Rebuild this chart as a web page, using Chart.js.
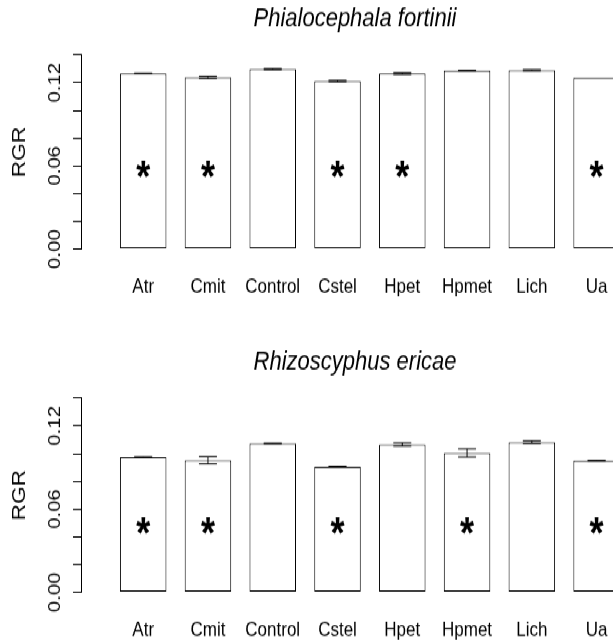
<!DOCTYPE html>
<html><head><meta charset="utf-8">
<script src="https://cdn.jsdelivr.net/npm/chart.js@4/dist/chart.umd.min.js"></script>
<style>
html,body{margin:0;padding:0;background:#fff;overflow:hidden;width:613px;height:640px;}
#stage{position:absolute;left:0;top:0;width:640px;height:580px;transform:scale(1,1.2);transform-origin:0 0;}
.panel{position:absolute;left:0;width:640px;height:284px;}
#p1{top:0}
#p2{top:286px}
</style></head><body>
<div id="stage">
<div class="panel" id="p1"><canvas id="c1" width="640" height="284"></canvas></div>
<div class="panel" id="p2"><canvas id="c2" width="640" height="284"></canvas></div>
</div>
<script>
// ---- data ----
const categories = ['Atr','Cmit','Control','Cstel','Hpet','Hpmet','Lich','Ua'];
const yTickLabels = ['0.00','0.06','0.12'];

const pfTitle = 'Phialocephala fortinii';
const pfMeans = [0.1266, 0.1239, 0.1298, 0.1212, 0.1266, 0.1288, 0.1290, 0.1236];
const pfSE    = [0.0001, 0.0008, 0.0004, 0.0005, 0.0006, 0.0001, 0.0004, 0.0000];
const pfSig   = [1, 1, 0, 1, 1, 0, 0, 1];
const pfStarAt = 0.055;

const reTitle = 'Rhizoscyphus ericae';
const reMeans = [0.0974, 0.0952, 0.1074, 0.0906, 0.1066, 0.1005, 0.1083, 0.0950];
const reSE    = [0.0002, 0.0026, 0.0002, 0.0003, 0.0012, 0.0030, 0.0010, 0.0001];
const reSig   = [1, 1, 0, 1, 0, 1, 0, 1];
const reStarAt = 0.046;

// ---- rendering ----
const FONT = '"Liberation Sans", Arial, Helvetica, sans-serif';
Chart.defaults.font.family = FONT;
Chart.defaults.color = '#000';

const errStar = {
  id: 'errStar',
  afterDatasetsDraw(chart, args, opts) {
    const ctx = chart.ctx, xs = chart.scales.x, ys = chart.scales.y;
    ctx.save();
    ctx.strokeStyle = '#000';
    ctx.lineWidth = 1;
    opts.means.forEach((m, i) => {
      const se = opts.se[i];
      if (se > 0) {
        const x = xs.getPixelForValue(i + 1);
        const yh = ys.getPixelForValue(m + se);
        const yl = ys.getPixelForValue(m - se);
        ctx.beginPath();
        ctx.moveTo(x, yh); ctx.lineTo(x, yl);
        ctx.moveTo(x - 9, yh); ctx.lineTo(x + 9, yh);
        ctx.moveTo(x - 9, yl); ctx.lineTo(x + 9, yl);
        ctx.stroke();
      }
    });
    const size = 36;
    ctx.font = 'bold ' + size + 'px ' + FONT;
    ctx.fillStyle = '#000';
    ctx.textAlign = 'center';
    ctx.textBaseline = 'alphabetic';
    opts.sig.forEach((s, i) => {
      if (!s) return;
      const x = xs.getPixelForValue(i + 1);
      const y = ys.getPixelForValue(opts.starAt);
      ctx.fillText('*', x, y + 0.45 * size);
    });
    ctx.restore();
  }
};

function makeChart(id, title, means, se, sig, starAt) {
  return new Chart(document.getElementById(id), {
    type: 'bar',
    data: {
      datasets: [{
        data: means.map((v, i) => ({x: i + 1, y: v})),
        backgroundColor: '#ffffff',
        borderColor: '#000000',
        borderWidth: 1,
        borderSkipped: false,
        barPercentage: 0.718,
        categoryPercentage: 1.0
      }]
    },
    options: {
      responsive: false,
      animation: false,
      layout: {padding: {left: 0, right: 11, top: 0, bottom: 12}},
      plugins: {
        legend: {display: false},
        tooltip: {enabled: false},
        title: {
          display: true, text: title, fullSize: false, color: '#000',
          font: {family: FONT, size: 22, style: 'italic', weight: 'normal'},
          padding: {top: 3, bottom: 16.4}
        },
        errStar: {means: means, se: se, sig: sig, starAt: starAt}
      },
      scales: {
        x: {
          type: 'linear', min: 0.04, max: 8.5, offset: false,
          afterBuildTicks: s => { s.ticks = categories.map((c, i) => ({value: i + 1})); },
          ticks: {
            callback: v => categories[v - 1] || '',
            autoSkip: false, maxRotation: 0, minRotation: 0,
            font: {family: FONT, size: 17}, color: '#000', padding: 22
          },
          grid: {display: false, drawTicks: false, tickLength: 0, offset: false},
          border: {display: false}
        },
        y: {
          type: 'linear', min: 0, max: 0.14,
          afterFit: s => { s.width = 81; },
          ticks: {
            stepSize: 0.02,
            callback: v => { const t = Number(v).toFixed(2); return yTickLabels.includes(t) ? t : ''; },
            minRotation: 90, maxRotation: 90, crossAlign: 'center',
            padding: 1, font: {family: FONT, size: 17}, color: '#000', autoSkip: false
          },
          grid: {drawOnChartArea: false, drawTicks: true, tickLength: 8, color: '#000', lineWidth: 1},
          border: {display: true, color: '#000', width: 1},
          title: {display: true, text: 'RGR', color: '#000', font: {family: FONT, size: 19, weight: 'normal'}, padding: {top: 8, bottom: 0}}
        }
      }
    },
    plugins: [errStar]
  });
}

makeChart('c1', pfTitle, pfMeans, pfSE, pfSig, pfStarAt);
makeChart('c2', reTitle, reMeans, reSE, reSig, reStarAt);
</script>
</body></html>
